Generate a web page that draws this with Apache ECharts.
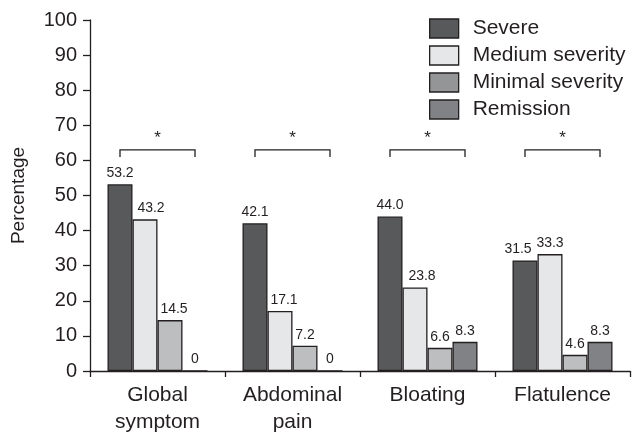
<!DOCTYPE html>
<html><head><meta charset="utf-8">
<script src="https://cdn.jsdelivr.net/npm/echarts@6/dist/echarts.min.js"></script>
<style>html,body{margin:0;padding:0;background:#fff}#c{width:633px;height:432px}</style>
</head><body><div id="c"></div>
<script>
var categories = ['Global\nsymptom', 'Abdominal\npain', 'Bloating', 'Flatulence'];
var seriesNames = ['Severe', 'Medium severity', 'Minimal severity', 'Remission'];
var severe = [53.2, 42.1, 44.0, 31.5];
var medium = [43.2, 17.1, 23.8, 33.3];
var minimal = [14.5, 7.2, 6.6, 4.6];
var remission = [0, 0, 8.3, 8.3];
var bracketLevel = [63, 63, 63, 63];
var bracketMark = ['*', '*', '*', '*'];

var colors = ['#58595b', '#e6e7e8', '#bcbec0', '#808285'];
var legendColors = ['#58595b', '#e6e7e8', '#949597', '#808285'];
var INK = '#231f20';
var FONT = 'Liberation Sans, Arial, sans-serif';
var BAR_W = 25;

function barSeries(name, data, color, shifts) {
  return {
    name: name, type: 'bar', barWidth: BAR_W, barGap: '0%',
    data: data.map(function (v, i) {
      var item = { value: v };
      if (shifts && shifts[i]) item.label = { offset: [shifts[i], 0] };
      return item;
    }),
    itemStyle: { color: color, borderColor: INK, borderWidth: 1.3 },
    label: { show: true, position: 'top', distance: 4, fontFamily: FONT, fontSize: 14, color: INK,
      formatter: function (p) { return p.value === 0 ? '0' : p.value.toFixed(1); } }
  };
}

var chart = echarts.init(document.getElementById('c'));
chart.setOption({
  animation: false,
  backgroundColor: '#fff',
  grid: { left: 90, right: 3, top: 20, bottom: 61, containLabel: false, outerBoundsMode: 'none' },
  legend: {
    orient: 'vertical', left: 424, top: 13, itemWidth: 29, itemHeight: 19, itemGap: 6,
    icon: 'rect',
    textStyle: { fontFamily: FONT, fontSize: 21, color: INK, padding: [0, 0, 0, 9] },
    data: seriesNames.map(function (n, i) {
      return { name: n, itemStyle: { color: legendColors[i], borderColor: INK, borderWidth: 1.3 } };
    })
  },
  xAxis: {
    type: 'category', data: categories,
    axisLine: { lineStyle: { color: INK, width: 1.3 } },
    axisTick: { show: true, length: 6, lineStyle: { color: INK, width: 1.3 } },
    axisLabel: { fontFamily: FONT, fontSize: 21, color: INK, margin: 11, lineHeight: 27 }
  },
  yAxis: {
    type: 'value', min: 0, max: 100, interval: 10,
    name: 'Percentage', nameLocation: 'middle', nameGap: 62, nameRotate: 90,
    nameTextStyle: { fontFamily: FONT, fontSize: 19, color: INK },
    axisLine: { show: true, lineStyle: { color: INK, width: 1.3 } },
    axisTick: { show: true, length: 7, lineStyle: { color: INK, width: 1.3 } },
    axisLabel: { fontFamily: FONT, fontSize: 20, color: INK, margin: 13 },
    splitLine: { show: false }
  },
  series: [
    barSeries(seriesNames[0], severe, colors[0], { 3: -7 }),
    barSeries(seriesNames[1], medium, colors[1], { 0: 6, 1: 4, 2: 7 }),
    barSeries(seriesNames[2], minimal, colors[2], { 0: 4 }),
    barSeries(seriesNames[3], remission, colors[3]),
    {
      type: 'custom', silent: true, z: 5,
      data: bracketLevel.map(function (v, i) { return [i, v]; }),
      renderItem: function (params, api) {
        var c = api.coord([api.value(0), api.value(1)]);
        var low = api.coord([api.value(0), api.value(1) - 2]);
        var half = 1.5 * BAR_W;
        var x1 = c[0] - half, x2 = c[0] + half;
        return {
          type: 'group',
          children: [
            { type: 'polyline', shape: { points: [[x1, low[1]], [x1, c[1]], [x2, c[1]], [x2, low[1]]] },
              style: { stroke: INK, lineWidth: 1.3, fill: null } },
            { type: 'text', style: { text: bracketMark[params.dataIndex], x: c[0], y: c[1] - 3,
              textAlign: 'center', textVerticalAlign: 'bottom', fontFamily: FONT, fontSize: 17, fill: INK } }
          ]
        };
      }
    }
  ]
});
</script></body></html>
